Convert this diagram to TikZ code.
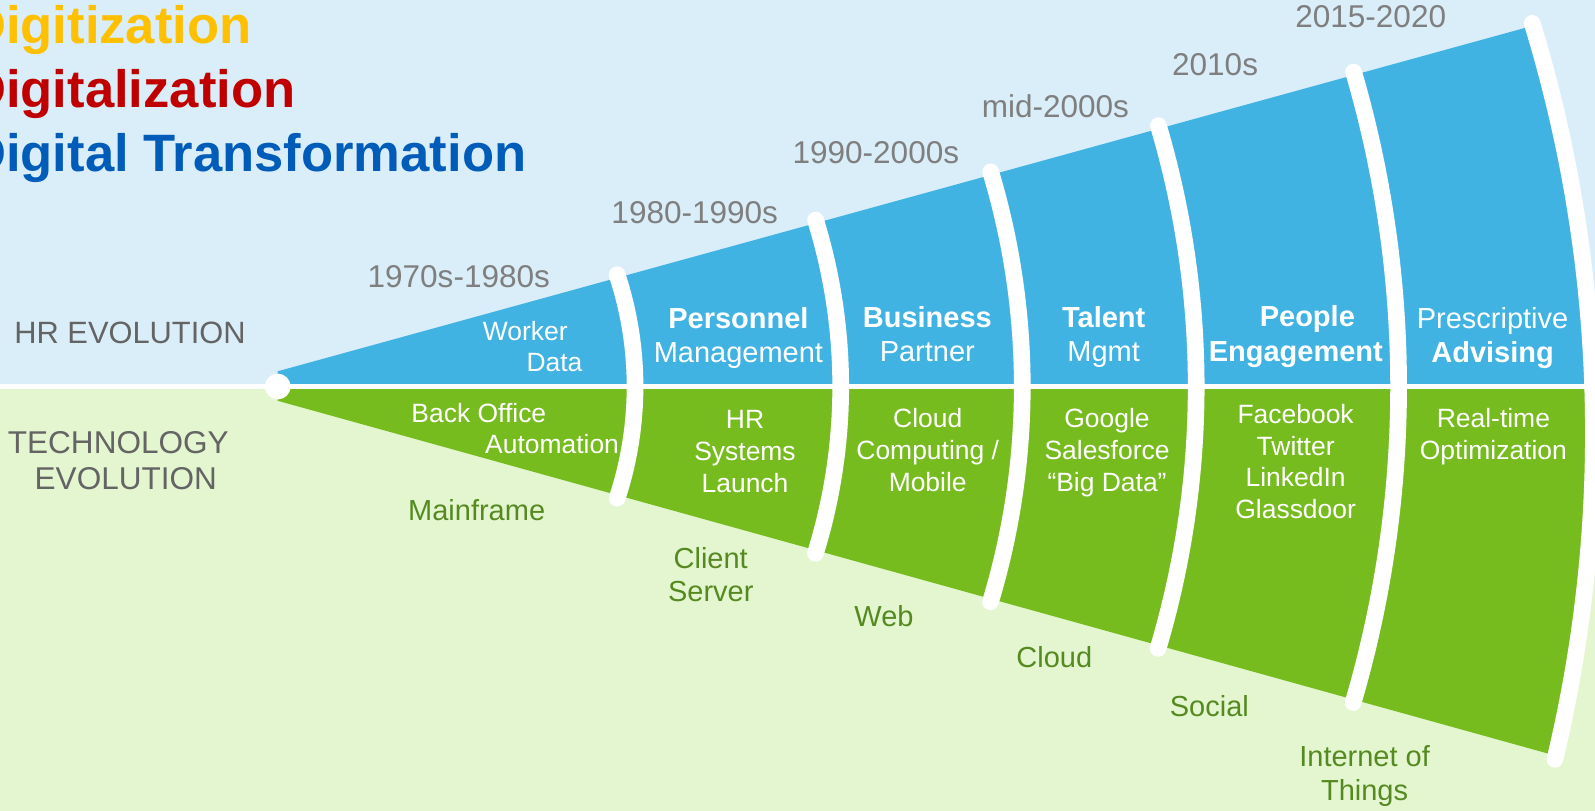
\documentclass[tikz,border=0pt]{standalone}
\usepackage{fontspec}
\setmainfont{Liberation Sans}
\definecolor{bgblue}{RGB}{218,238,249}
\definecolor{bggreen}{RGB}{227,246,207}
\definecolor{coneblue}{RGB}{65,179,227}
\definecolor{conegreen}{RGB}{119,188,31}
\definecolor{yeargray}{RGB}{127,127,127}
\definecolor{sidegray}{RGB}{100,100,100}
\definecolor{techgreen}{RGB}{86,138,33}
\definecolor{tgold}{RGB}{255,192,0}
\definecolor{tred}{RGB}{192,0,0}
\definecolor{tblue}{RGB}{0,92,185}
\tikzset{
 sepline/.style={white, line width=16.4pt, line cap=round},
 lbl/.style={inner sep=0pt, anchor=base, align=center},
 toplbl/.style={lbl, text=white, font=\fontsize{28.5}{33.7}\selectfont},
 smalltop/.style={lbl, text=white, font=\fontsize{26}{31}\selectfont},
 botlbl/.style={lbl, text=white, font=\fontsize{26}{31.4}\selectfont},
 outlbl/.style={lbl, text=techgreen, font=\fontsize{28.5}{32.8}\selectfont},
 yearlbl/.style={lbl, text=yeargray, font=\fontsize{31}{37}\selectfont},
 sidelbl/.style={lbl, text=sidegray, font=\fontsize{31}{36}\selectfont},
 titlelbl/.style={inner sep=0pt, anchor=base west, font=\fontsize{51.7}{62}\selectfont\bfseries},
}
\begin{document}
\begin{tikzpicture}[x=1pt,y=-1pt]
\useasboundingbox (0,0) rectangle (1568,797);
% backgrounds
\fill[bgblue] (0,0) rectangle (1568,380);
\fill[bggreen] (0,380) rectangle (1568,797);
\coordinate (A) at (273,380);
\coordinate (C6) at (188.5,425.8);
% cone
\begin{scope}
  \clip (C6) circle (1378pt);
  \fill[coneblue] (273,365) -- (1700,{365-0.2753*1427}) -- (1700,380) -- (273,380) -- cycle;
  \fill[conegreen] (273,394) -- (1700,{394+0.2777*1427}) -- (1700,380) -- (273,380) -- cycle;
\end{scope}
% horizontal separator
\draw[white, line width=4.5pt] (0,380) -- (1568,380);
% arcs
\foreach \r in {351.3,553.5,732,903,1102}{
  \pgfmathsetmacro\angT{15.39+asin(14.46/\r)+171.9/\r}
  \pgfmathsetmacro\angB{15.52+asin(13.49/\r)+171.9/\r}
  \draw[sepline] (A) ++(-\angT:\r) arc[start angle=-\angT, end angle=\angB, radius=\r];
}
\draw[sepline] (C6) ++(-17.0:1378) arc[start angle=-17.0, end angle=13.46, radius=1378];
\node[circle, fill=white, minimum size=25.4pt, inner sep=0pt] (apex) at (A) {};
% titles
\node[titlelbl, text=tgold] (t1) at (-31.5,42.6) {Digitization};
\node[titlelbl, text=tred] (t2) at (-31.5,105.5) {Digitalization};
\node[titlelbl, text=tblue] (t3) at (-31.5,168.8) {Digital Transformation};
% side labels
\node[sidelbl, font=\fontsize{30.3}{36}\selectfont] (hrevo) at (127.8,337.5) {HR EVOLUTION};
\node[sidelbl] (tech1) at (116.3,445.7) {TECHNOLOGY};
\node[sidelbl] (tech2) at (123.7,481.7) {EVOLUTION};
% years
\node[yearlbl] (y1) at (451,282.5) {1970s-1980s};
\node[yearlbl] (y2) at (683,219.5) {1980-1990s};
\node[yearlbl] (y3) at (861,161) {1990-2000s};
\node[yearlbl] (y4) at (1037.5,115.5) {mid-2000s};
\node[yearlbl] (y5) at (1194.5,74.7) {2010s};
\node[yearlbl] (y6) at (1347.5,26.9) {2015-2020};
% HR labels (base = last line)
\node[smalltop] (hr1a) at (516.3,334.3) {Worker};
\node[smalltop] (hr1b) at (545.1,365.4) {Data};
\node[toplbl] (hr2) at (725.9,356.5) {\textbf{Personnel}\\Management};
\node[toplbl] (hr3) at (911.6,355.6) {\textbf{Business}\\Partner};
\node[toplbl] (hr4) at (1085,355.6) {\textbf{Talent}\\Mgmt};
\node[toplbl] (hr5a) at (1285.2,321.2) {\textbf{People}};
\node[toplbl] (hr5b) at (1273.9,355.6) {\textbf{Engagement}};
\node[toplbl] (hr6) at (1467.3,356.5) {Prescriptive\\\textbf{Advising}};
% technology labels inside
\node[botlbl] (te1a) at (470.7,415.5) {Back Office};
\node[botlbl] (te1b) at (542.7,446.3) {Automation};
\node[botlbl] (te2) at (732.4,484.3) {HR\\Systems\\Launch};
\node[botlbl] (te3) at (912,483.4) {Cloud\\Computing /\\Mobile};
\node[botlbl] (te4) at (1088.3,483.4) {Google\\Salesforce\\“Big Data”};
\node[botlbl, font=\fontsize{26}{31.1}\selectfont] (te5) at (1273.7,509.6) {Facebook\\Twitter\\LinkedIn\\Glassdoor};
\node[botlbl, font=\fontsize{26}{32.1}\selectfont] (te6) at (1468.1,452.2) {Real-time\\Optimization};
% technology labels outside
\node[outlbl] (o1) at (468.6,511.2) {Mainframe};
\node[outlbl] (o2) at (698.7,591.5) {Client\\Server};
\node[outlbl] (o3) at (869,616.1) {Web};
\node[outlbl] (o4) at (1036.5,656) {Cloud};
\node[outlbl] (o5) at (1188.9,704.5) {Social};
\node[outlbl] (o6) at (1341.5,786.5) {Internet of\\Things};
\end{tikzpicture}
\end{document}
